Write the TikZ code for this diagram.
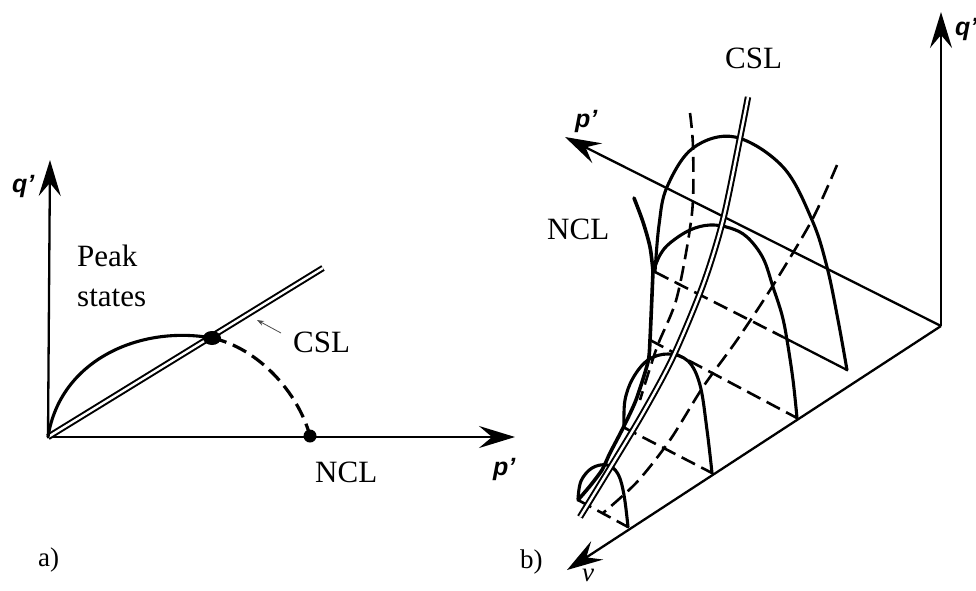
\documentclass[tikz,border=0pt]{standalone}
\usepackage{fontspec}
\setmainfont{Liberation Serif}
\newfontfamily\axfont{Liberation Sans}
\usetikzlibrary{arrows.meta}
\begin{document}
\begin{tikzpicture}[x=1pt,y=-1pt,
  axis/.style={line width=2.3pt,-{Stealth[length=36pt,width=22pt,inset=13pt]}},
  curve/.style={line width=3.1pt,line cap=round,line join=round},
  dashln/.style={line width=2.6pt,dash pattern=on 15pt off 7pt},
  cslline/.style={double,line width=2pt,double distance=2.4pt},
  lbl/.style={font=\fontsize{31}{36}\selectfont,anchor=base west,inner sep=0pt},
  axlbl/.style={font=\fontsize{25}{28}\selectfont\axfont\bfseries\itshape,anchor=base west,inner sep=0pt},
]
\useasboundingbox (0,0) rectangle (976,590);

% ---------- panel a ----------
\coordinate (Oa) at (48,437);
\coordinate (qa) at (50,160);
\coordinate (pa) at (515,437);
\coordinate (Ca) at (323,268);
\coordinate (Pk) at (212,338);
\coordinate (Na) at (310,436);

\draw[axis] (Oa) -- (qa);
\draw[axis] (Oa) -- (pa);
\draw[cslline] (Oa) -- (Ca);
\draw[curve] (Oa) .. controls (60,360) and (140,325) .. (Pk);
\draw[dashln,line width=3.2pt] (Pk) .. controls (258,348) and (298,392) .. (Na);
\fill (Pk) ellipse (9pt and 7pt);
\fill (Na) circle (6.5pt);
\coordinate (ar1) at (281,333);
\coordinate (ar2) at (257,320);
\draw[line width=0.8pt,black!70,-{Stealth[length=7pt,width=5pt]}] (ar1) -- (ar2);

\node[axlbl] (qla) at (12,192) {q’};
\node[axlbl] (pla) at (493,475) {p’};
\node[lbl] (peak) at (77,266) {Peak};
\node[lbl] (states) at (77,306) {states};
\node[lbl] (csla) at (293,352) {CSL};
\node[lbl] (ncla) at (315,482) {NCL};
\node[lbl,font=\fontsize{27}{30}\selectfont] (la) at (38,566) {a)};

% ---------- panel b ----------
\coordinate (Ob) at (941,326);
\coordinate (qb) at (941,12);
\coordinate (pb) at (565,137);
\coordinate (vb) at (567,570);

\draw[axis] (Ob) -- (qb);
\draw[axis] (Ob) -- (pb);
\draw[axis] (Ob) -- (vb);

% base lines of the yield loci
\draw[dashln] (655,272) -- (783,337);
\draw[line width=2.3pt] (783,337) -- (847,370);
\draw[dashln] (650,340) -- (797,418);
\draw[dashln] (623,427) -- (712,473);
\draw[dashln] (578,500) -- (628,527);

% dashed loci
\draw[dashln] plot[smooth] coordinates {(690,113) (693,147) (692,213) (677,297) (657,347) (640,400)};
\draw[dashln] plot[smooth] coordinates {(837,165) (812,220) (772,287) (737,340) (703,387) (670,440) (637,482) (603,513)};

% NCL
\draw[curve,line width=3.6pt] plot[smooth] coordinates {(634,198) (643,222) (650,247) (653,271)};
\draw[curve,line width=3.6pt] plot[smooth,tension=0.4] coordinates {(653,271) (650,340) (648,362) (636,400) (623,428) (610,453) (602,470) (590,486) (578,500)};

% arches
\draw[curve] plot[smooth,tension=0.6] coordinates {(655,272) (659,225) (667,187) (693,148) (735,137) (783,167) (812,220) (827,267) (838,320) (847,370)};
\draw[curve] plot[smooth,tension=0.6] coordinates {(653,272) (660,255) (670,243) (690,230) (710,225) (730,228) (747,237) (763,258) (773,287) (782,315) (787,340) (793,380) (797,418)};
\draw[curve] plot[smooth,tension=0.6] coordinates {(624,425) (625,400) (633,378) (648,360) (668,354) (688,361) (700,385) (707,430) (712,473)};
\draw[curve] plot[smooth,tension=0.6] coordinates {(578,499) (581,481) (592,468) (607,465) (618,474) (624,495) (628,527)};

% CSL
\draw[cslline] plot[smooth] coordinates {(748,97) (740,138) (723,220) (703,285) (673,357) (643,413) (610,468) (580,517)};

\node[axlbl] (qlb) at (955,35) {q’};
\node[axlbl] (plb) at (575,127) {p’};
\node[lbl,font=\fontsize{27}{30}\selectfont\itshape] (vl) at (582,581) {v};
\node[lbl] (cslb) at (725,68) {CSL};
\node[lbl] (nclb) at (547,239) {NCL};
\node[lbl,font=\fontsize{27}{30}\selectfont] (lb) at (520,568) {b)};
\end{tikzpicture}
\end{document}
